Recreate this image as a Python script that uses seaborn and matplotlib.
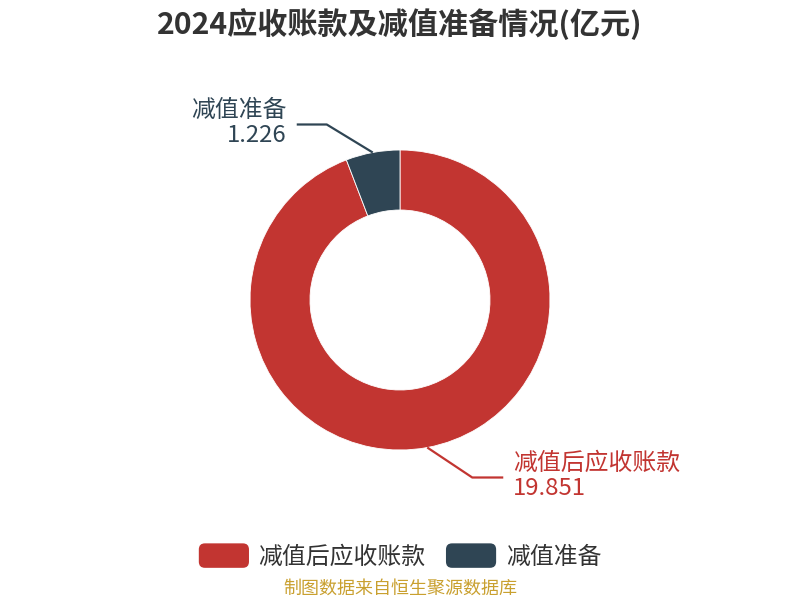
import matplotlib
matplotlib.use("Agg")
import matplotlib.pyplot as plt
import seaborn as sns
from matplotlib.patches import FancyBboxPatch
from matplotlib.legend_handler import HandlerPatch
import numpy as np

title = "2024应收账款及减值准备情况(亿元)"
categories = ["减值后应收账款", "减值准备"]
values = [19.851, 1.226]
value_labels = ["19.851", "1.226"]
colors = ["#c23531", "#2f4554"]
footer = "制图数据来自恒生聚源数据库"

sns.set_theme(style="white")
plt.rcParams['font.family'] = ['Noto Sans CJK SC', 'DejaVu Sans']

W, H = 800, 600
fig = plt.figure(figsize=(8, 6), dpi=100)
ax = fig.add_axes([0, 0, 1, 1])
ax.set_xlim(0, W)
ax.set_ylim(0, H)
ax.set_aspect('equal')
ax.axis('off')

cx, cy, R, width = 400, 300, 150, 60
wedges, _ = ax.pie(values, colors=colors, startangle=90, counterclock=False,
                   center=(cx, cy), radius=R, frame=True,
                   wedgeprops=dict(width=width, edgecolor='white', linewidth=0.6))
ax.set_xlim(0, W)
ax.set_ylim(0, H)
ax.axis('off')

# leader lines and labels
elbows = {0: ((45, -30), (31, 0), 'left'), 1: ((-46, 28), (-30, 0), 'right')}
for i, w in enumerate(wedges):
    mid = np.deg2rad((w.theta1 + w.theta2) / 2)
    x0, y0 = cx + R * np.cos(mid), cy + R * np.sin(mid)
    (dx1, dy1), (dx2, dy2), ha = elbows[i]
    x1, y1 = x0 + dx1, y0 + dy1
    x2, y2 = x1 + dx2, y1 + dy2
    ax.plot([x0, x1, x2], [y0, y1, y2], color=colors[i], lw=1.6, solid_capstyle='butt')
    tx = x2 + (10 if ha == 'left' else -10)
    ax.text(tx, y2 + 3, categories[i], color=colors[i], fontsize=17.2, ha=ha, va='bottom')
    ax.text(tx, y2 + 0.5, value_labels[i], color=colors[i], fontsize=17.2, ha=ha, va='top')

fig.text(0.5, 1 - 24 / H, title, ha='center', va='center', fontsize=21.7,
         fontweight='bold', color='#333333')
fig.text(0.5, 1 - 589 / H, footer, ha='center', va='center', fontsize=13,
         color='#c9a02f')


class RoundHandler(HandlerPatch):
    def create_artists(self, legend, orig_handle, xdescent, ydescent, width, height, fontsize, trans):
        p = FancyBboxPatch((-xdescent, -ydescent), width, height,
                           boxstyle="round,pad=0,rounding_size=%f" % (height * 0.25),
                           facecolor=orig_handle.get_facecolor(), edgecolor='none',
                           transform=trans)
        return [p]


handles = [plt.Rectangle((0, 0), 1, 1, facecolor=c) for c in colors]
leg = fig.legend(handles, categories, loc='center', bbox_to_anchor=(0.5, 1 - 556 / H),
                 ncol=2, frameon=False, fontsize=17.2, handlelength=2.1, handleheight=1.2,
                 handletextpad=0.4, columnspacing=0.85,
                 handler_map={plt.Rectangle: RoundHandler()})
for t in leg.get_texts():
    t.set_color('#333333')

fig.savefig("out.png", dpi=100)
